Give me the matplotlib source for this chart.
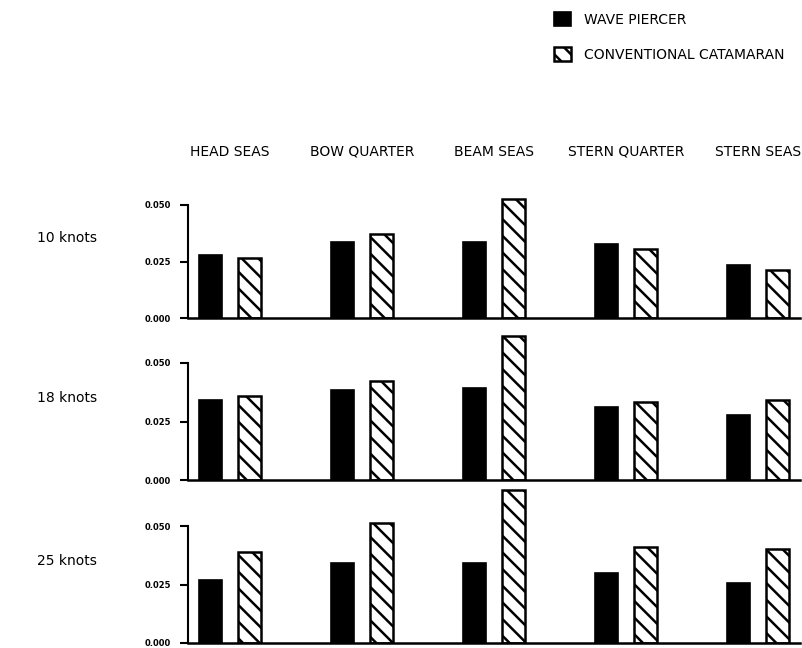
import matplotlib
matplotlib.use("Agg")
import matplotlib.pyplot as plt
import matplotlib.transforms as mtransforms
import numpy as np

headings = ["HEAD SEAS", "BOW QUARTER", "BEAM SEAS", "STERN QUARTER", "STERN SEAS"]
speeds = ["10 knots", "18 knots", "25 knots"]
series_names = ["WAVE PIERCER", "CONVENTIONAL CATAMARAN"]

wave_piercer_10 = [0.0279, 0.0338, 0.0338, 0.0327, 0.0235]
catamaran_10 = [0.0265, 0.0370, 0.0525, 0.0305, 0.0212]
wave_piercer_18 = [0.0343, 0.0383, 0.0393, 0.0314, 0.0279]
catamaran_18 = [0.0357, 0.0425, 0.0614, 0.0335, 0.0340]
wave_piercer_25 = [0.0269, 0.0344, 0.0340, 0.0301, 0.0258]
catamaran_25 = [0.0387, 0.0514, 0.0654, 0.0411, 0.0400]

yticks = [0.000, 0.025, 0.050]
ytick_labels = ["0.000", "0.025", "0.050"]

rows = [(wave_piercer_10, catamaran_10),
        (wave_piercer_18, catamaran_18),
        (wave_piercer_25, catamaran_25)]

plt.rcParams["hatch.linewidth"] = 1.8
plt.rcParams["hatch.color"] = "black"
plt.rcParams["font.family"] = ["DejaVu Sans"]

W, H = 803, 648
fig = plt.figure(figsize=(W / 100, H / 100), dpi=100)

# pixel geometry of each row: (baseline y, pixels per 0.05)
row_geom = [(318, 113), (480, 117), (643, 117)]
ymax = 0.068
x_left_px, x_right_px = 188, 800
group_center0, group_step = 230, 132
xl = (x_left_px - group_center0) / group_step
xr = (x_right_px - group_center0) / group_step

x = np.arange(len(headings))
off = 0.15
bw = 0.175

axes = []
handles = None
for r, ((wp, cc), (base, scale)) in enumerate(zip(rows, row_geom)):
    h_px = ymax / 0.05 * scale
    ax = fig.add_axes([x_left_px / W, 1 - base / H, (x_right_px - x_left_px) / W, h_px / H])
    b1 = ax.bar(x - off, wp, bw, color="black", edgecolor="black", linewidth=1.2)
    b2 = ax.bar(x + off, cc, bw, color="white", edgecolor="black", linewidth=1.8, hatch="\\\\")
    if handles is None:
        handles = [b1, b2]
    ax.set_xlim(xl, xr)
    ax.set_ylim(0, ymax)
    ax.set_yticks(yticks)
    ax.set_yticklabels(ytick_labels, fontsize=6, fontweight="bold")
    ax.set_xticks([])
    for s in ["top", "right"]:
        ax.spines[s].set_visible(False)
    ax.spines["left"].set_bounds(0, 0.05)
    ax.spines["left"].set_linewidth(1.5)
    ax.spines["bottom"].set_linewidth(1.8)
    ax.tick_params(axis="y", direction="out", length=6, width=1.5, pad=6)
    ax.patch.set_alpha(0)
    fig.text(67 / W, 1 - (base - 0.0352 / 0.05 * scale) / H, speeds[r], fontsize=10,
             ha="center", va="center")
    axes.append(ax)

trans = mtransforms.blended_transform_factory(axes[0].transData, fig.transFigure)
for i, name in enumerate(headings):
    axes[0].text(x[i], 1 - 152 / H, name, transform=trans, ha="center", va="center",
                 fontsize=10)

fig.legend(handles, series_names, loc="upper left",
           bbox_to_anchor=(541 / W, 1 + 1 / H), frameon=False,
           handlelength=1.25, handleheight=1.25, labelspacing=1.45,
           handletextpad=0.95, prop={"size": 10})

fig.savefig("out.png", dpi=100)
